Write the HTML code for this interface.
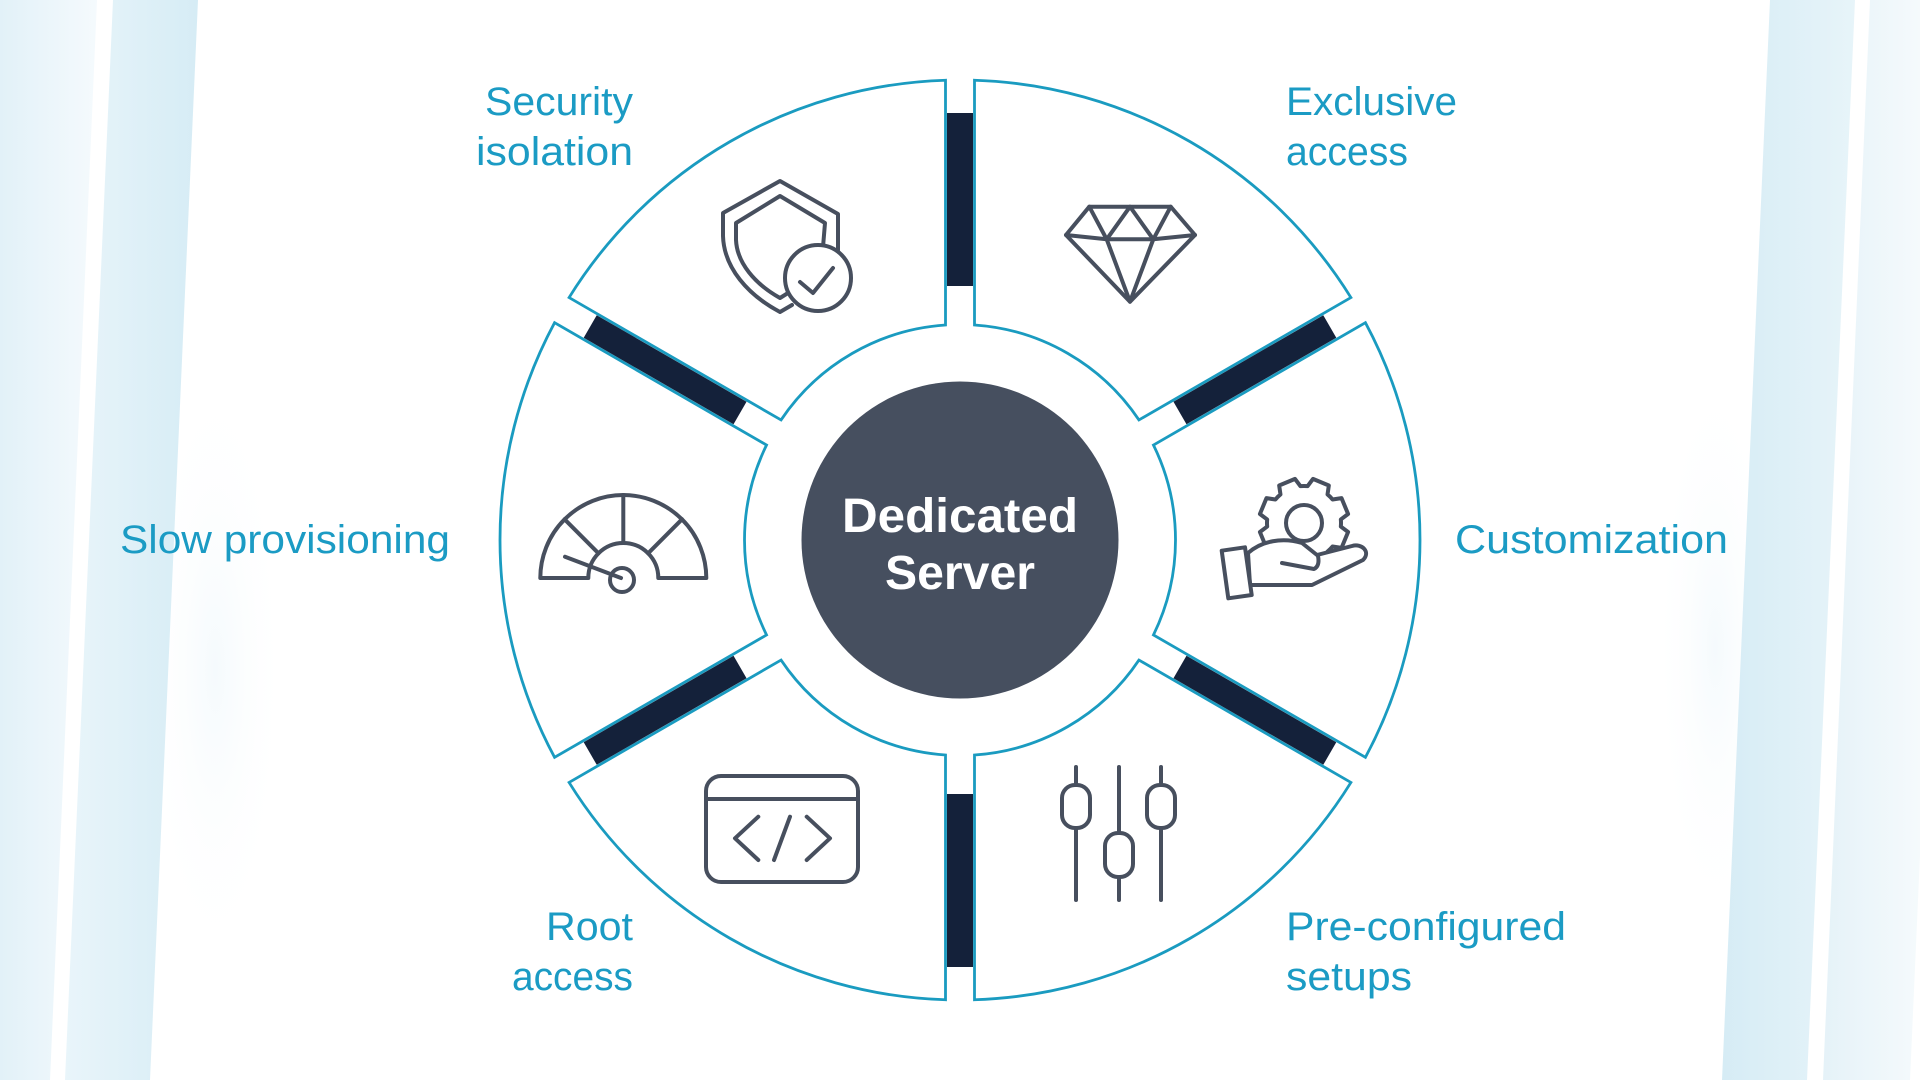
<!DOCTYPE html>
<html>
<head>
<meta charset="utf-8">
<style>
html,body{margin:0;padding:0;background:#ffffff;}
body{width:1920px;height:1080px;overflow:hidden;}
svg{display:block;}
</style>
</head>
<body>
<svg width="1920" height="1080" viewBox="0 0 1920 1080" xmlns="http://www.w3.org/2000/svg">
  <defs>
    <linearGradient id="gL0" x1="0" y1="0" x2="1" y2="0">
      <stop offset="0" stop-color="#e2f1f8"/>
      <stop offset="1" stop-color="#f5fafd"/>
    </linearGradient>
    <linearGradient id="gL1" x1="0" y1="0" x2="1" y2="0">
      <stop offset="0" stop-color="#e9f5fa"/>
      <stop offset="1" stop-color="#d6ecf5"/>
    </linearGradient>
    <linearGradient id="gR1" x1="0" y1="0" x2="1" y2="0">
      <stop offset="0" stop-color="#d6ecf5"/>
      <stop offset="1" stop-color="#e7f4f9"/>
    </linearGradient>
    <linearGradient id="gR2" x1="0" y1="0" x2="1" y2="0">
      <stop offset="0" stop-color="#e5f2f8"/>
      <stop offset="1" stop-color="#f5fafc"/>
    </linearGradient>
    <radialGradient id="glowL" cx="0.5" cy="0.55" r="0.5">
      <stop offset="0" stop-color="#e8f4fa" stop-opacity="0.45"/>
      <stop offset="1" stop-color="#ffffff" stop-opacity="0"/>
    </radialGradient>
  </defs>

  <!-- background stripes -->
  <rect x="0" y="0" width="1920" height="1080" fill="#ffffff"/>
  <ellipse cx="215" cy="640" rx="70" ry="300" fill="url(#glowL)"/>
  <ellipse cx="1715" cy="620" rx="60" ry="280" fill="url(#glowL)"/>
  <polygon points="0,0 97,0 50,1080 0,1080" fill="url(#gL0)"/>
  <polygon points="113,0 198,0 150,1080 65,1080" fill="url(#gL1)"/>
  <polygon points="1770,0 1855,0 1807,1080 1722,1080" fill="url(#gR1)"/>
  <polygon points="1870,0 1920,0 1920,855 1910,1080 1823,1080" fill="url(#gR2)"/>

  <!-- ring segments -->
  <g transform="translate(960,540)">
    <g fill="#ffffff" stroke="#1a9bc0" stroke-width="2.8" stroke-linejoin="miter">
      <path d="M 193.45 -94.95 L 405.42 -217.33 A 460 460 0 0 1 405.42 217.33 L 193.45 94.95 A 215.5 215.5 0 0 0 193.45 -94.95 Z"/>
      <path d="M 193.45 -94.95 L 405.42 -217.33 A 460 460 0 0 1 405.42 217.33 L 193.45 94.95 A 215.5 215.5 0 0 0 193.45 -94.95 Z" transform="rotate(60)"/>
      <path d="M 193.45 -94.95 L 405.42 -217.33 A 460 460 0 0 1 405.42 217.33 L 193.45 94.95 A 215.5 215.5 0 0 0 193.45 -94.95 Z" transform="rotate(120)"/>
      <path d="M 193.45 -94.95 L 405.42 -217.33 A 460 460 0 0 1 405.42 217.33 L 193.45 94.95 A 215.5 215.5 0 0 0 193.45 -94.95 Z" transform="rotate(180)"/>
      <path d="M 193.45 -94.95 L 405.42 -217.33 A 460 460 0 0 1 405.42 217.33 L 193.45 94.95 A 215.5 215.5 0 0 0 193.45 -94.95 Z" transform="rotate(240)"/>
      <path d="M 193.45 -94.95 L 405.42 -217.33 A 460 460 0 0 1 405.42 217.33 L 193.45 94.95 A 215.5 215.5 0 0 0 193.45 -94.95 Z" transform="rotate(300)"/>
    </g>
    <g fill="#14213a">
      <rect x="254" y="-13" width="173" height="26" transform="rotate(30)"/>
      <rect x="254" y="-13" width="173" height="26" transform="rotate(90)"/>
      <rect x="254" y="-13" width="173" height="26" transform="rotate(150)"/>
      <rect x="254" y="-13" width="173" height="26" transform="rotate(210)"/>
      <rect x="254" y="-13" width="173" height="26" transform="rotate(270)"/>
      <rect x="254" y="-13" width="173" height="26" transform="rotate(330)"/>
    </g>
    <circle cx="0" cy="0" r="158.5" fill="#464f5f"/>
  </g>

  <!-- center text -->
  <g font-family="'Liberation Sans', Arial, sans-serif" font-weight="bold" fill="#ffffff" text-anchor="middle" font-size="48">
    <text x="960" y="532" textLength="236" lengthAdjust="spacingAndGlyphs">Dedicated</text>
    <text x="960" y="589" textLength="150" lengthAdjust="spacingAndGlyphs">Server</text>
  </g>

  <!-- labels -->
  <g font-family="'Liberation Sans', Arial, sans-serif" fill="#1b9bc4" font-size="40">
    <text x="633" y="115" text-anchor="end" textLength="148" lengthAdjust="spacingAndGlyphs">Security</text>
    <text x="633" y="165" text-anchor="end" textLength="157" lengthAdjust="spacingAndGlyphs">isolation</text>
    <text x="1286" y="115" textLength="171" lengthAdjust="spacingAndGlyphs">Exclusive</text>
    <text x="1286" y="165" textLength="122" lengthAdjust="spacingAndGlyphs">access</text>
    <text x="120" y="553" textLength="330" lengthAdjust="spacingAndGlyphs">Slow provisioning</text>
    <text x="1455" y="553" textLength="273" lengthAdjust="spacingAndGlyphs">Customization</text>
    <text x="633" y="940" text-anchor="end" textLength="87" lengthAdjust="spacingAndGlyphs">Root</text>
    <text x="633" y="990" text-anchor="end" textLength="121" lengthAdjust="spacingAndGlyphs">access</text>
    <text x="1286" y="940" textLength="280" lengthAdjust="spacingAndGlyphs">Pre-configured</text>
    <text x="1286" y="990" textLength="126" lengthAdjust="spacingAndGlyphs">setups</text>
  </g>

  <!-- icons -->
  <g fill="none" stroke="#474f5e" stroke-width="4" stroke-linecap="round" stroke-linejoin="round">
    <!-- shield -->
    <path d="M 838 250 L 838 214 L 780 181 L 723 213 L 723 236 C 724 268 748 295 780 312 L 792 305"/>
    <path d="M 823 247 L 825 223 L 780 196 L 736 223 L 736 240 C 737 263 755 284 780 298 L 788 293"/>
    <circle cx="818" cy="278" r="33" fill="#ffffff"/>
    <path d="M 800 282 L 813 293 L 833 268"/>

    <!-- diamond -->
    <path d="M 1089.3 206.7 L 1170.7 206.7 L 1195 235 L 1130 301.7 L 1066 235 Z"/>
    <path d="M 1066 235 L 1106.7 239.3 L 1153.3 239.3 L 1195 235"/>
    <path d="M 1089.3 206.7 L 1106.7 239.3 L 1130 206.7 L 1153.3 239.3 L 1170.7 206.7"/>
    <path d="M 1106.7 239.3 L 1130 301.7 L 1153.3 239.3"/>

    <!-- gear -->
    <g transform="translate(1304,523)">
      <path d="M 36.83 3.55 L 44.10 8.97 L 37.53 24.84 L 28.55 23.53 A 37 37 0 0 1 23.53 28.55 L 24.84 37.53 L 8.97 44.10 L 3.55 36.83 A 37 37 0 0 1 -3.55 36.83 L -8.97 44.10 L -24.84 37.53 L -23.53 28.55 A 37 37 0 0 1 -28.55 23.53 L -37.53 24.84 L -44.10 8.97 L -36.83 3.55 A 37 37 0 0 1 -36.83 -3.55 L -44.10 -8.97 L -37.53 -24.84 L -28.55 -23.53 A 37 37 0 0 1 -23.53 -28.55 L -24.84 -37.53 L -8.97 -44.10 L -3.55 -36.83 A 37 37 0 0 1 3.55 -36.83 L 8.97 -44.10 L 24.84 -37.53 L 23.53 -28.55 A 37 37 0 0 1 28.55 -23.53 L 37.53 -24.84 L 44.10 -8.97 L 36.83 -3.55 A 37 37 0 0 1 36.83 3.55 Z"/>
      <circle cx="0" cy="0" r="18"/>
    </g>
    <!-- hand -->
    <path d="M 1248 553 C 1262 541 1282 537 1302 543 L 1317 555 L 1352 546 C 1362 543 1371 552 1363 560 L 1312 585 L 1250 585 Z" fill="#ffffff"/>
    <path d="M 1282 563 L 1314 569 Q 1320 566 1318 556"/>
    <polygon points="1221.7,550.7 1245,547.3 1251.7,595 1228.3,598.3" fill="#ffffff"/>

    <!-- gauge -->
    <path d="M 540.3 578 A 83 83 0 0 1 706.3 578 L 658.3 578 A 35 35 0 0 0 588.3 578 Z"/>
    <path d="M 623.3 495 L 623.3 543"/>
    <path d="M 564.6 519.3 L 598.5 553.3"/>
    <path d="M 682 519.3 L 648.1 553.3"/>
    <circle cx="622" cy="580" r="12" fill="#ffffff"/>
    <path d="M 565 556.7 L 621 578"/>

    <!-- code window -->
    <rect x="706" y="776" width="152" height="106" rx="15"/>
    <path d="M 706 799 L 858 799"/>
    <path d="M 758.3 816.7 L 735 838.3 L 758.3 860"/>
    <path d="M 790 816.7 L 774 860"/>
    <path d="M 806.7 816.7 L 830 838.3 L 806.7 860"/>

    <!-- sliders -->
    <path d="M 1076 767 L 1076 900"/>
    <path d="M 1119 767 L 1119 900"/>
    <path d="M 1161 767 L 1161 900"/>
    <rect x="1062" y="785" width="28" height="43" rx="13" fill="#ffffff"/>
    <rect x="1105" y="833" width="28" height="44" rx="13" fill="#ffffff"/>
    <rect x="1147" y="785" width="28" height="43" rx="13" fill="#ffffff"/>
  </g>
</svg>
</body>
</html>
